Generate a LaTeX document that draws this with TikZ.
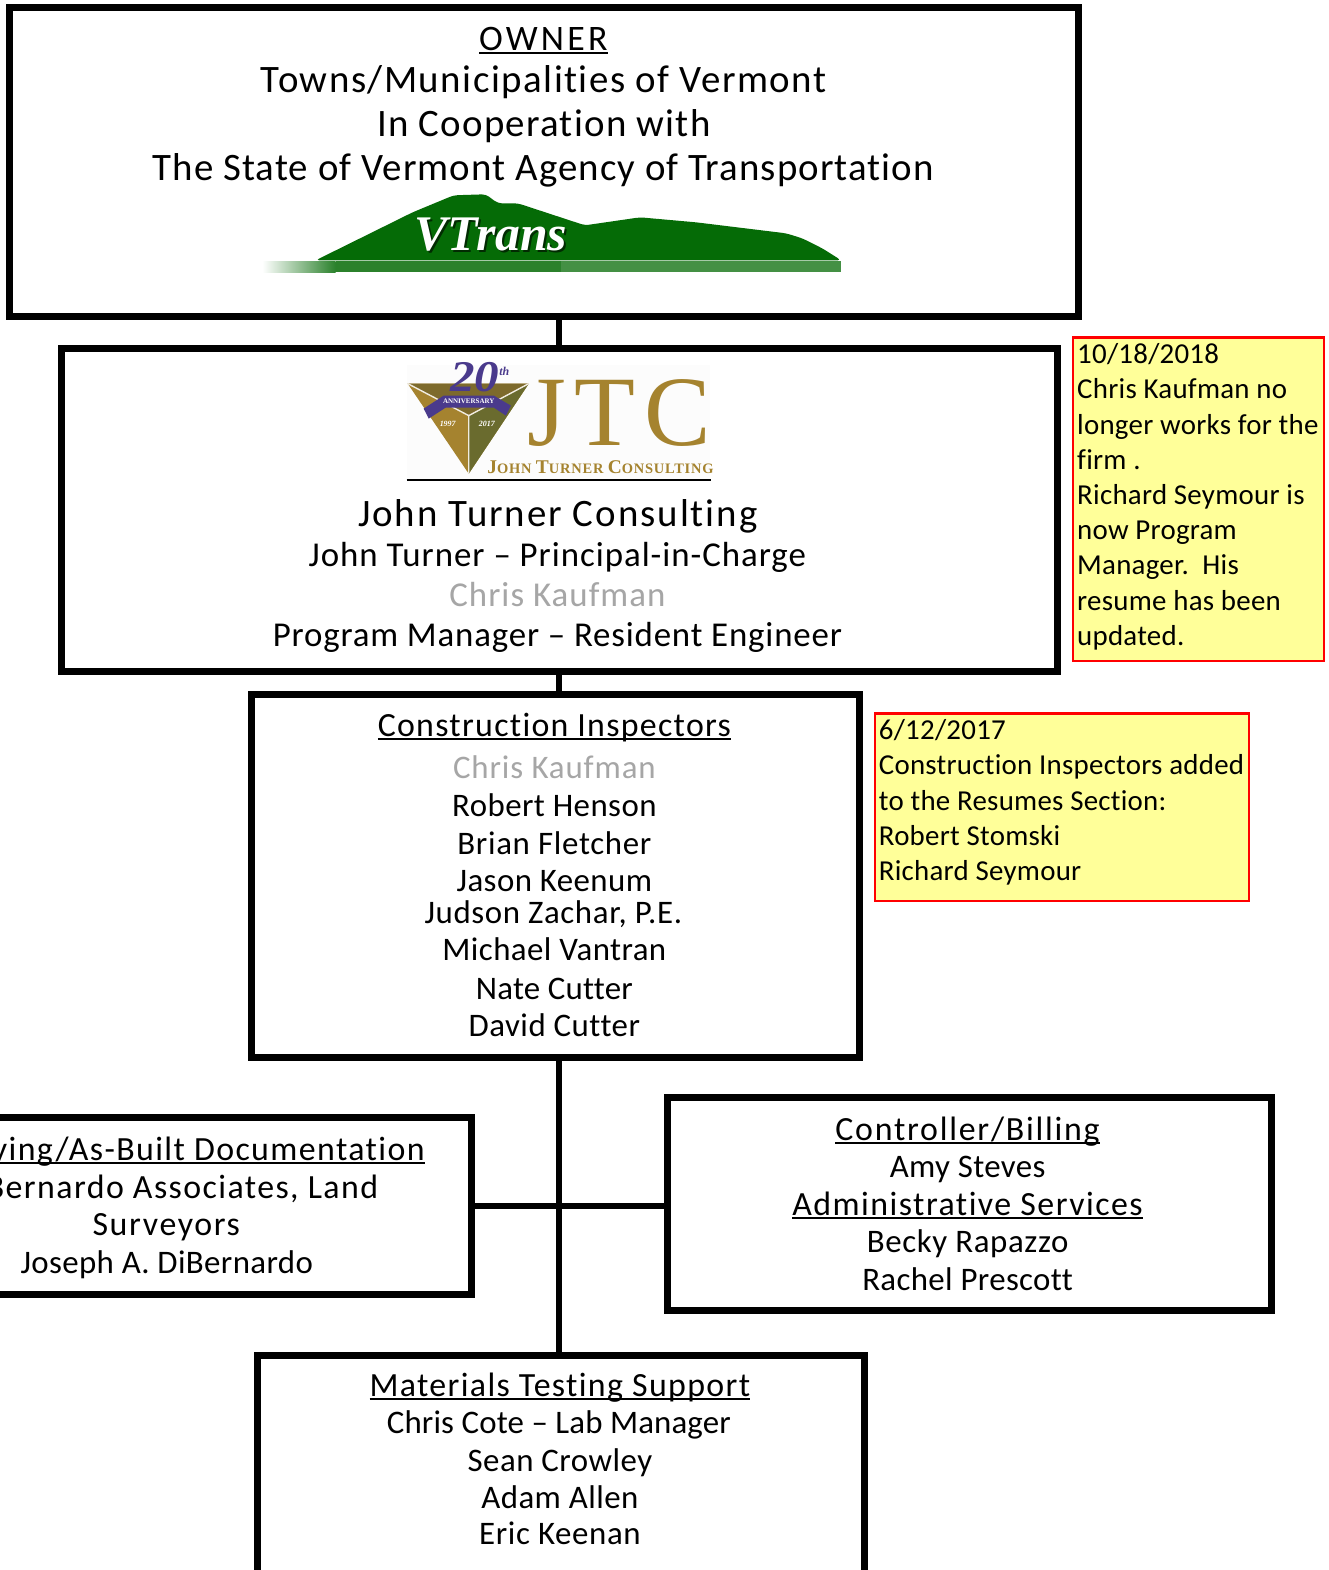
\documentclass[tikz,border=0pt]{standalone}
\usepackage{fontspec}
\usepackage{graphicx}
\setmainfont{Carlito}[Ligatures=NoCommon]
\newfontfamily\serifx{Liberation Serif}
\newfontfamily\serifw{Liberation Serif}[LetterSpace=8.5]
\newfontfamily\serifn{Liberation Serif}[LetterSpace=5.5]
\usetikzlibrary{calc}
\definecolor{vgreen}{HTML}{056B06}
\definecolor{jgold}{HTML}{A5832F}
\definecolor{jbrown}{HTML}{7D6A2C}
\definecolor{jolive}{HTML}{6A6B2E}
\definecolor{jpurple}{HTML}{4A3A8C}
\definecolor{notey}{HTML}{FFFF99}
\definecolor{gonegrey}{HTML}{A6A6A6}
\newcommand\ulx[1]{\setbox0\hbox{#1}\rlap{\rule[-3.6pt]{\wd0}{1.9pt}}\box0}
\newcommand\fs[2]{\fontsize{#1}{#1}\selectfont\addfontfeatures{LetterSpace=#2}}
\tikzset{
 x=1.0016bp,y=-1.0015bp,
 orgbox/.style={draw=black,line width=7bp,fill=white,inner sep=0pt,outer sep=0pt},
 wire/.style={draw=black,line width=6bp},
 notebox/.style={draw=red,line width=2.2bp,fill=notey,inner sep=0pt,outer sep=0pt},
 tline/.style={anchor=base,inner sep=0pt,outer sep=0pt,text=black},
 nline/.style={anchor=base west,inner sep=0pt,outer sep=0pt,text=black,font=\fs{29}{0.9}},
}
\newcommand\bx[6]{\node[#1,minimum width=1.0016*(#5-#3)*1bp,minimum height=1.0015*(#6-#4)*1bp] (#2) at ({(#3+#5)/2},{(#4+#6)/2}) {};}
\begin{document}
\begin{tikzpicture}
\useasboundingbox[fill=white] (0bp,0bp) rectangle (1329bp,-1570bp);
% boxes
\bx{orgbox}{owner}{9.5}{7}{1076.5}{316}
\bx{orgbox}{jtc}{61.5}{348}{1055.5}{670.5}
\bx{orgbox}{insp}{251.5}{693}{858.5}{1055.5}
\bx{orgbox}{surv}{-40}{1116}{470.5}{1292.5}
\bx{orgbox}{ctrl}{666.5}{1096}{1269.5}{1308.5}
\bx{orgbox}{mat}{257.5}{1353}{863.5}{1640}
% connectors
\draw[wire] (owner.south -| jtc.north) -- (jtc.north);
\draw[wire] (jtc.south) -- (insp.north -| jtc.south);
\draw[wire] (insp.south -| jtc.south) -- (mat.north -| jtc.south);
\draw[wire] (surv.east) -- (surv.east -| ctrl.west);
% owner text
\node[tline,font=\fs{36}{9}] (o1) at (542.5,50.5) {\ulx{OWNER}};
\node[tline,font=\fs{39}{3.9}] (o2) at (543,92.3) {Towns/Municipalities of Vermont};
\node[tline,font=\fs{39}{3.3}] (o3) at (543,136.3) {In Cooperation with};
\node[tline,font=\fs{39}{2.8}] (o4) at (542.5,180.6) {The State of Vermont Agency of Transportation};
% VTrans logo
\shade[left color=white,right color=vgreen!85!white] (262,261) rectangle (335,272);
\fill[vgreen!85!white] (335,261) rectangle (560,272);
\fill[vgreen!75!white] (560,261) rectangle (840,272);
\fill[vgreen,rounded corners=4pt] (315,260) -- (412,212) -- (453,195) -- (485,194) -- (497,203) -- (517,203) -- (584,225) -- (639,217) -- (695,222) -- (785,233) -- (801,238) -- (821,248) -- (840,260) -- cycle;
\node[inner sep=0pt,text=black!60!vgreen] (vts) at (492,236.5) {\serifx\bfseries\itshape\fontsize{50}{50}\selectfont VTrans};
\node[inner sep=0pt,text=white] (vt) at (490,234.5) {\serifx\bfseries\itshape\fontsize{50}{50}\selectfont VTrans};
% JTC logo
\fill[black!1] (406,364) rectangle (709,478);
\fill[jgold] (407,383) -- (528,383) -- (468,473) -- cycle;
\fill[jolive] (468,473) -- (468,415) -- (528,383) -- cycle;
\fill[jbrown] (407,383) -- (528,383) -- (468,415) -- cycle;
\draw[white!85!jgold,line width=1.4bp] (407,383) -- (468,415) -- (528,383) (468,415) -- (468,473);
\fill[jpurple] (423,408) -- (443,395) -- (493,395) -- (510,405) -- (505,415) -- (493,407) -- (445,407) -- (428,418) -- cycle;
\node[inner sep=0pt,text=white] (ann) at (468,401) {\serifx\bfseries\fontsize{7}{7}\selectfont ANNIVERSARY};
\node[inner sep=0pt,text=white] (y1) at (447,423) {\serifx\bfseries\itshape\fontsize{8}{8}\selectfont 1997};
\node[inner sep=0pt,text=white] (y2) at (486,423) {\serifx\bfseries\itshape\fontsize{8}{8}\selectfont 2017};
\node[inner sep=0pt,text=jpurple,anchor=base] (twenty) at (479,391) {\serifx\bfseries\itshape\fontsize{44}{44}\selectfont\scalebox{1.12}[1]{20}\raisebox{16pt}{\fontsize{12}{12}\selectfont th}};
\node[anchor=base,inner sep=0pt,text=jgold] (jtclogo) at (618,445) {\serifw\fontsize{100}{100}\selectfont JTC};
\node[anchor=base,inner sep=0pt,text=jgold] (jtcname) at (599.5,473) {\serifn\bfseries\fontsize{19.5}{19.5}\selectfont J\fontsize{14.5}{14.5}\selectfont OHN \fontsize{19.5}{19.5}\selectfont T\fontsize{14.5}{14.5}\selectfont URNER \fontsize{19.5}{19.5}\selectfont C\fontsize{14.5}{14.5}\selectfont ONSULTING};
\draw[black,line width=1.6bp] (406,479.5) -- (710,479.5);
% JTC text
\node[tline,font=\fs{39}{5.1}] (j1) at (557,526) {John Turner Consulting};
\node[tline,font=\fs{35}{2.8}] (j2) at (556.5,566) {John Turner -- Principal-in-Charge};
\node[tline,font=\fs{35}{3},text=gonegrey] (j3) at (556.5,606) {Chris Kaufman};
\node[tline,font=\fs{35}{2.4}] (j4) at (556.5,646) {Program Manager -- Resident Engineer};
% inspectors
\node[tline,font=\fs{34}{3.8}] (i1) at (553.5,735.5) {\ulx{Construction Inspectors}};
\node[tline,font=\fs{33}{2.7},text=gonegrey] (i2) at (553.5,777.5) {Chris Kaufman};
\node[tline,font=\fs{33}{1.3}] (i3) at (553.5,815.5) {Robert Henson};
\node[tline,font=\fs{33}{2.1}] (i4) at (553.5,853.5) {Brian Fletcher};
\node[tline,font=\fs{33}{1.3}] (i5) at (553.5,890.5) {Jason Keenum};
\node[tline,font=\fs{33}{1.9}] (i6) at (552.5,922.5) {Judson Zachar, P.E.};
\node[tline,font=\fs{33}{1.3}] (i7) at (553.5,959.5) {Michael Vantran};
\node[tline,font=\fs{33}{0.7}] (i8) at (553.5,997.5) {Nate Cutter};
\node[tline,font=\fs{33}{1.5}] (i9) at (553.5,1034.5) {David Cutter};
% surveying
\node[tline,font=\fs{34}{4.15}] (s1) at (166,1158.5) {\ulx{Surveying/As-Built Documentation}};
\node[tline,font=\fs{34}{4.2}] (s2) at (166,1196.5) {DiBernardo Associates, Land};
\node[tline,font=\fs{34}{4.8}] (s3) at (166,1233.5) {Surveyors};
\node[tline,font=\fs{33}{1.1}] (s4) at (166.5,1271.5) {Joseph A. DiBernardo};
% controller
\node[tline,font=\fs{34}{5.2}] (c1) at (966,1138.5) {\ulx{Controller/Billing}};
\node[tline,font=\fs{33}{1.1}] (c2) at (966,1175.5) {Amy Steves};
\node[tline,font=\fs{34}{4.3}] (c3) at (966,1213.5) {\ulx{Administrative Services}};
\node[tline,font=\fs{33}{1.9}] (c4) at (966,1250.5) {Becky Rapazzo};
\node[tline,font=\fs{33}{1.1}] (c5) at (966,1288.5) {Rachel Prescott};
% materials
\node[tline,font=\fs{34}{4}] (m1) at (559,1394.5) {\ulx{Materials Testing Support}};
\node[tline,font=\fs{33}{0.4}] (m2) at (558,1431.5) {Chris Cote -- Lab Manager};
\node[tline,font=\fs{33}{1.5}] (m3) at (559,1469.5) {Sean Crowley};
\node[tline,font=\fs{33}{1.3}] (m4) at (559,1506.5) {Adam Allen};
\node[tline,font=\fs{33}{1.9}] (m5) at (559,1542.5) {Eric Keenan};
% notes
\bx{notebox}{noteA}{1071.5}{337}{1322}{660}
\node[nline] (a1) at (1075.5,363) {10/18/2018};
\node[nline] (a2) at (1075.5,398) {Chris Kaufman no};
\node[nline] (a3) at (1075.5,434) {longer works for the};
\node[nline] (a4) at (1075.5,469) {firm .};
\node[nline] (a5) at (1075.5,504) {Richard Seymour is};
\node[nline] (a6) at (1075.5,539) {now Program};
\node[nline] (a7) at (1075.5,574) {Manager.\ \ His};
\node[nline] (a8) at (1075.5,610) {resume has been};
\node[nline] (a9) at (1075.5,645) {updated.};
\bx{notebox}{noteB}{873.5}{712.5}{1247}{900}
\node[nline] (b1) at (877.5,738) {6/12/2017};
\node[nline] (b2) at (877.5,773) {Construction Inspectors added};
\node[nline] (b3) at (877.5,809) {to the Resumes Section:};
\node[nline] (b4) at (877.5,844) {Robert Stomski};
\node[nline] (b5) at (877.5,879) {Richard Seymour};
\end{tikzpicture}
\end{document}
